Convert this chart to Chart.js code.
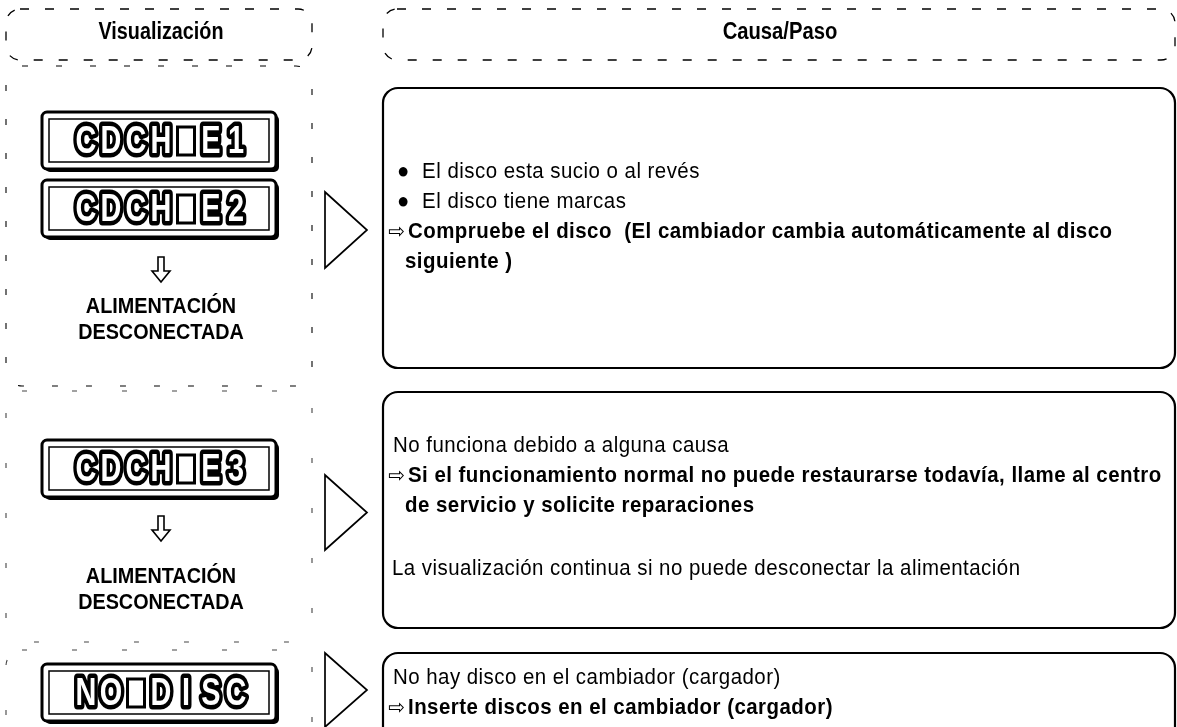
<!DOCTYPE html>
<html>
<head>
<meta charset="utf-8">
<script src="https://cdn.jsdelivr.net/npm/chart.js@4.4.0/dist/chart.umd.min.js"></script>
<style>
  html, body { margin: 0; padding: 0; background: #fff; }
  #wrap { width: 1177px; height: 727px; }
</style>
</head>
<body>
<div id="wrap"><canvas id="chart"></canvas></div>
<script>
'use strict';

// ── Data ──────────────────────────────────────────────────────────────────────

const HEADERS = ['Visualización', 'Causa/Paso'];

// one entry per row; a space is the blank segment of the display
const DISPLAY_CODES = [['CDCH E1', 'CDCH E2'], ['CDCH E3'], ['NO DISC']];
const POWER_NOTE = ['ALIMENTACIÓN', 'DESCONECTADA'];
const HAS_POWER_NOTE = [true, true, false];

const CAUSES = [
  ['●  El disco esta sucio o al revés', '●  El disco tiene marcas'],
  ['No funciona debido a alguna causa'],
  ['No hay disco en el cambiador (cargador)'],
];
const ACTIONS = [
  ['⇨Compruebe el disco  (El cambiador cambia automáticamente al disco', 'siguiente )'],
  ['⇨Si el funcionamiento normal no puede restaurarse todavía, llame al centro', 'de servicio y solicite reparaciones'],
  ['⇨Inserte discos en el cambiador (cargador)'],
];
const NOTES = [
  [],
  ['La visualización continua si no puede desconectar la alimentación'],
  [],
];

// ── Layout (page units, mapped through the hidden scales) ─────────────────────

const W = 1177, H = 727;
const LEFT_COL = [6, 312];
const RIGHT_COL = [383, 1175];
const HEADER_Y = [9, 60];
const LEFT_BOX_Y = [[66, 386], [391, 642], [650, 745]];
const RIGHT_BOX_Y = [[88, 368], [392, 628], [653, 745]];
const DISPLAY_TOP = [[112, 180], [440], [664]];
const DISPLAY_H = 57;
const ARROW_TOP = [257, 516];
const NOTE_Y = [307, 333, 577, 603];
const TRI_Y = [[192, 268], [475, 550], [653, 727]];
const TEXT_Y0 = [172, 446, 678];
const LINE_H = 30;
const FONT = '"Liberation Sans", "DejaVu Sans", sans-serif';

// ── Drawing helpers ───────────────────────────────────────────────────────────

function text(ctx, s, x, y, size, bold, align, sx, spacing) {
  ctx.save();
  ctx.font = (bold ? 'bold ' : '') + size + 'px ' + FONT;
  ctx.letterSpacing = (spacing || 0) + 'px';
  ctx.textBaseline = 'middle';
  ctx.textAlign = align;
  ctx.fillStyle = '#000';
  ctx.translate(x, y);
  ctx.scale(sx, 1);
  ctx.fillText(s, 0, 0);
  ctx.restore();
}

// body line; a leading ⇨ is drawn as a larger hollow arrow
function bodyLine(ctx, s, x, y, bold) {
  if (s.startsWith('⇨')) {
    ctx.save();
    ctx.font = '20px "DejaVu Sans", sans-serif';
    ctx.textBaseline = 'middle';
    ctx.fillStyle = '#000';
    ctx.fillText('⇨', x - 1, y + 1);
    ctx.restore();
    s = s.slice(1);
    x += 19;
  }
  text(ctx, s, x, y, 22, bold, 'left', 0.93, 0.5);
}

function roundBox(ctx, x0, y0, x1, y1, r, dash, lw, color) {
  ctx.save();
  ctx.setLineDash(dash);
  ctx.lineWidth = lw;
  ctx.strokeStyle = color || '#000';
  ctx.beginPath();
  ctx.roundRect(x0, y0, x1 - x0, y1 - y0, r);
  ctx.stroke();
  ctx.restore();
}

function displayPanel(ctx, x0, y0, x1, y1, code) {
  ctx.save();
  ctx.fillStyle = '#000';
  ctx.beginPath();
  ctx.roundRect(x0 + 3, y0 + 3, x1 - x0, y1 - y0, 5);
  ctx.fill();
  ctx.fillStyle = '#fff';
  ctx.strokeStyle = '#000';
  ctx.lineWidth = 3;
  ctx.beginPath();
  ctx.roundRect(x0, y0, x1 - x0, y1 - y0, 5);
  ctx.fill();
  ctx.stroke();
  ctx.lineWidth = 1.5;
  ctx.strokeRect(x0 + 7, y0 + 7, x1 - x0 - 14, y1 - y0 - 14);

  const slot = 25;
  const cx = (x0 + x1) / 2 + 2, cy = (y0 + y1) / 2;
  const start = cx - (code.length * slot) / 2;
  ctx.font = 'bold 38px ' + FONT;
  ctx.textAlign = 'center';
  ctx.textBaseline = 'middle';
  ctx.lineJoin = 'round';
  [...code].forEach((ch, i) => {
    const x = start + slot * i + slot / 2;
    if (ch === ' ') {
      ctx.fillStyle = '#000';
      ctx.fillRect(x - 10, cy - 15, 20, 31);
      ctx.fillStyle = '#fff';
      ctx.fillRect(x - 7, cy - 12, 14, 25);
      return;
    }
    ctx.save();
    ctx.translate(x, cy + 2);
    ctx.scale(0.76, 1);
    ctx.lineWidth = 9;
    ctx.strokeStyle = '#000';
    ctx.strokeText(ch, 0, 0);
    ctx.fillStyle = '#fff';
    ctx.fillText(ch, 0, 0);
    ctx.restore();
  });
  ctx.restore();
}

function downArrow(ctx, cx, top) {
  ctx.save();
  ctx.lineWidth = 1.6;
  ctx.strokeStyle = '#000';
  ctx.beginPath();
  ctx.moveTo(cx - 3, top);
  ctx.lineTo(cx - 3, top + 14);
  ctx.lineTo(cx - 9, top + 14);
  ctx.lineTo(cx, top + 25);
  ctx.lineTo(cx + 9, top + 14);
  ctx.lineTo(cx + 3, top + 14);
  ctx.lineTo(cx + 3, top);
  ctx.closePath();
  ctx.stroke();
  ctx.restore();
}

function triangle(ctx, x0, x1, y0, y1) {
  ctx.save();
  ctx.lineWidth = 1.7;
  ctx.strokeStyle = '#000';
  ctx.beginPath();
  ctx.moveTo(x0, y0);
  ctx.lineTo(x1, (y0 + y1) / 2);
  ctx.lineTo(x0, y1);
  ctx.closePath();
  ctx.stroke();
  ctx.restore();
}

// ── Plugin: lays the table out on the chart's own scales ──────────────────────

const tablePlugin = {
  id: 'troubleTable',
  afterDraw(chart) {
    const ctx = chart.ctx;
    const sx = v => chart.scales.x.getPixelForValue(v);
    const sy = v => chart.scales.y.getPixelForValue(v);
    const leftMid = (LEFT_COL[0] + LEFT_COL[1]) / 2 + 2;

    // headers
    roundBox(ctx, sx(LEFT_COL[0]), sy(HEADER_Y[0]), sx(LEFT_COL[1]), sy(HEADER_Y[1]), 14, [9, 16], 1.3);
    roundBox(ctx, sx(RIGHT_COL[0]), sy(HEADER_Y[0]), sx(RIGHT_COL[1]), sy(HEADER_Y[1]), 14, [9, 16], 1.3);
    text(ctx, HEADERS[0], sx(leftMid), sy(33), 23, true, 'center', 0.86);
    text(ctx, HEADERS[1], sx((RIGHT_COL[0] + RIGHT_COL[1]) / 2 + 1), sy(33), 23, true, 'center', 0.88);

    DISPLAY_CODES.forEach((codes, r) => {
      // left column (faint dashed frame)
      roundBox(ctx, sx(LEFT_COL[0]), sy(LEFT_BOX_Y[r][0]), sx(LEFT_COL[1]), sy(LEFT_BOX_Y[r][1]), 16,
        r === 0 ? [6, 28] : [5, 45], 1.1, r === 0 ? '#000' : '#444');
      codes.forEach((code, k) => {
        const top = DISPLAY_TOP[r][k];
        displayPanel(ctx, sx(42), sy(top), sx(276), sy(top + DISPLAY_H), code);
      });
      if (HAS_POWER_NOTE[r]) {
        downArrow(ctx, sx(leftMid), sy(ARROW_TOP[r]));
        text(ctx, POWER_NOTE[0], sx(leftMid), sy(NOTE_Y[r * 2]), 22, true, 'center', 0.9);
        text(ctx, POWER_NOTE[1], sx(leftMid), sy(NOTE_Y[r * 2 + 1]), 22, true, 'center', 0.9);
      }

      triangle(ctx, sx(325), sx(367), sy(TRI_Y[r][0]), sy(TRI_Y[r][1]));

      // right column
      roundBox(ctx, sx(RIGHT_COL[0]), sy(RIGHT_BOX_Y[r][0]), sx(RIGHT_COL[1]), sy(RIGHT_BOX_Y[r][1]), 15, [], 2.2);
      let y = TEXT_Y0[r];
      CAUSES[r].forEach(s => {
        bodyLine(ctx, s, sx(r === 0 ? 397 : 393), sy(y), false);
        y += LINE_H;
      });
      ACTIONS[r].forEach((s, i) => {
        bodyLine(ctx, s, sx(i === 0 ? 389 : 405), sy(y), true);
        y += LINE_H;
      });
      if (NOTES[r].length) {
        y += 33;
        NOTES[r].forEach(s => {
          bodyLine(ctx, s, sx(392), sy(y), false);
          y += LINE_H;
        });
      }
    });
  },
};

// ── Chart ─────────────────────────────────────────────────────────────────────

new Chart(document.getElementById('chart'), {
  type: 'scatter',
  data: { datasets: [] },
  options: {
    responsive: true,
    maintainAspectRatio: false,
    animation: false,
    layout: { padding: 0 },
    plugins: { legend: { display: false }, tooltip: { enabled: false } },
    scales: {
      x: { type: 'linear', min: 0, max: W, display: false },
      y: { type: 'linear', min: 0, max: H, reverse: true, display: false },
    },
  },
  plugins: [tablePlugin],
});
</script>
</body>
</html>
